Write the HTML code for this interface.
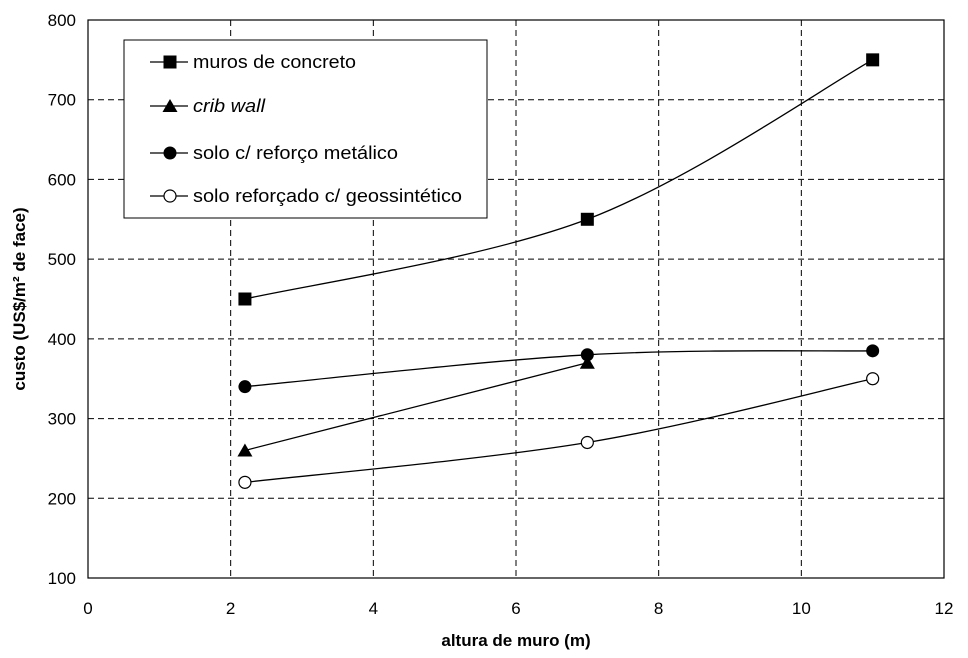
<!DOCTYPE html>
<html><head><meta charset="utf-8">
<style>
html,body{margin:0;padding:0;background:#fff;}
svg{display:block;font-family:"Liberation Sans",Arial,sans-serif;}
</style></head>
<body>
<svg id="chart" width="968" height="658" viewBox="0 0 968 658">
<g id="grid"></g>
<rect x="88" y="20" width="856" height="558" fill="none" stroke="#000" stroke-width="1.2"/>
<g id="ticks"></g>
<g id="series"></g>
<text x="516" y="646" text-anchor="middle" font-size="17" font-weight="bold">altura de muro (m)</text>
<text transform="translate(25,299) rotate(-90)" text-anchor="middle" font-size="17" font-weight="bold">custo (US$/m² de face)</text>
<g>
<rect x="124" y="40" width="363" height="178" fill="#fff" stroke="#000" stroke-width="1"/>
<g id="legend-items"></g>
</g>
</svg>
<script>
const xTicks=[0,2,4,6,8,10,12];
const yTicks=[100,200,300,400,500,600,700,800];
const seriesNames=["muros de concreto","crib wall","solo c/ reforço metálico","solo reforçado c/ geossintético"];
const concretoX=[2.2,7,11];
const concretoY=[450,550,750];
const cribX=[2.2,7];
const cribY=[260,370];
const metalicoX=[2.2,7,11];
const metalicoY=[340,380,385];
const geoX=[2.2,7,11];
const geoY=[220,270,350];
const legendWidths=[163,72,205,269];
const NS="http://www.w3.org/2000/svg";
function xs(v){return 88+v*(856/12);}
function ys(v){return 578-(v-100)*(558/700);}
function mk(tag,attrs,parent){const e=document.createElementNS(NS,tag);for(const k in attrs)e.setAttribute(k,attrs[k]);parent.appendChild(e);return e;}
const grid=document.getElementById('grid'),ticks=document.getElementById('ticks'),ser=document.getElementById('series'),leg=document.getElementById('legend-items');
xTicks.forEach(t=>{
  if(t>0&&t<12){const l=mk('line',{x1:xs(t),x2:xs(t),y1:20,y2:578,stroke:'#000','stroke-width':1,'stroke-dasharray':'6,4'},grid);
  
  }
  const tx=mk('text',{x:xs(t),y:614,'text-anchor':'middle','font-size':17},ticks);tx.textContent=t;
  
  
});
yTicks.forEach(t=>{
  if(t>100&&t<800){const l=mk('line',{x1:88,x2:944,y1:ys(t),y2:ys(t),stroke:'#000','stroke-width':1,'stroke-dasharray':'6,4'},grid);
  
  }
  const tx=mk('text',{x:76,y:ys(t)+6,'text-anchor':'end','font-size':17},ticks);tx.textContent=t;
  
  
});
function smooth(pts){
  if(pts.length<3){return 'M'+pts.map(p=>p.join(',')).join('L');}
  let d='M'+pts[0].join(',');const t=0.5/3*2;
  for(let i=0;i<pts.length-1;i++){
    const p0=pts[i-1]||pts[i],p1=pts[i],p2=pts[i+1],p3=pts[i+2]||p2;
    const c1=[p1[0]+(p2[0]-p0[0])*t/2,p1[1]+(p2[1]-p0[1])*t/2];
    const c2=[p2[0]-(p3[0]-p1[0])*t/2,p2[1]-(p3[1]-p1[1])*t/2];
    d+='C'+c1.join(',')+' '+c2.join(',')+' '+p2.join(',');
  }
  return d;
}
function marker(type,x,y,parent,name){
  let e;
  if(type==='square')e=mk('rect',{x:x-6.5,y:y-6.5,width:13,height:13,fill:'#000'},parent);
  else if(type==='tri')e=mk('polygon',{points:`${x},${y-7} ${x+7.5},${y+6} ${x-7.5},${y+6}`,fill:'#000'},parent);
  else if(type==='dot')e=mk('circle',{cx:x,cy:y,r:6.5,fill:'#000'},parent);
  else e=mk('circle',{cx:x,cy:y,r:6,fill:'#fff',stroke:'#000','stroke-width':1.2},parent);
  
  
}
const defs=[[concretoX,concretoY,'square','concreto'],[cribX,cribY,'tri','crib-wall'],[metalicoX,metalicoY,'dot','reforco-metalico'],[geoX,geoY,'open','geossintetico']];
defs.forEach((s,i)=>{
  const pts=s[0].map((v,j)=>[xs(v),ys(s[1][j])]);
  const p=mk('path',{d:smooth(pts),fill:'none',stroke:'#000','stroke-width':1.3},ser);
  
  
  pts.forEach(q=>marker(s[2],q[0],q[1],ser,s[3]+'-point'));
  const ly=[62,106,153,196][i];
  const ll=mk('line',{x1:150,x2:188,y1:ly,y2:ly,stroke:'#000','stroke-width':1.3},leg);
  
  
  marker(s[2],170,ly,leg,'legend-marker');
  const tx=mk('text',{x:193,y:ly+6,'font-size':18,textLength:legendWidths[i],lengthAdjust:'spacingAndGlyphs'},leg);tx.textContent=seriesNames[i];
  if(i===1)tx.setAttribute('font-style','italic');
  
  
});
</script>
</body></html>
